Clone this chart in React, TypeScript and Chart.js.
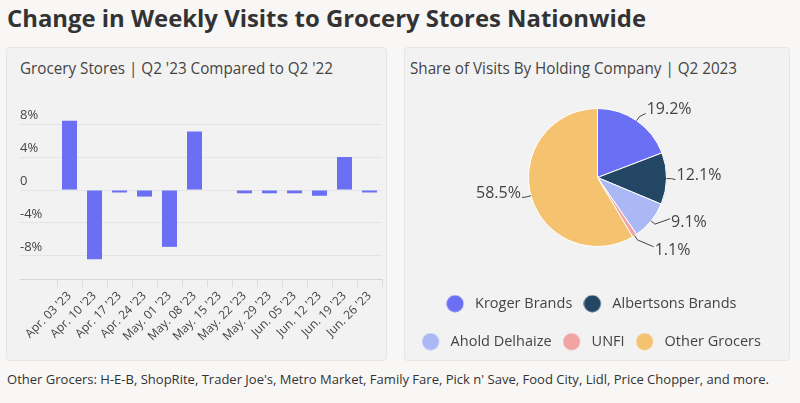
import React, { useEffect, useRef, useMemo } from 'react';
import { Chart, registerables } from 'chart.js';

Chart.register(...registerables);

// ---------- data ----------
const weeks = [
  "Apr. 03 '23", "Apr. 10 '23", "Apr. 17 '23", "Apr. 24 '23", "May. 01 '23", "May. 08 '23",
  "May. 15 '23", "May. 22 '23", "May. 29 '23", "Jun. 05 '23", "Jun. 12 '23", "Jun. 19 '23", "Jun. 26 '23",
];
const weeklyChange = [8.4, -8.4, -0.3, -0.8, -6.9, 7.1, 0, -0.4, -0.4, -0.4, -0.7, 4.0, -0.3];
const yTickValues = [8, 4, 0, -4, -8];
const yLimit = 10.8;

const companies = ['Kroger Brands', 'Albertsons Brands', 'Ahold Delhaize', 'UNFI', 'Other Grocers'];
const visitShare = [19.2, 12.1, 9.1, 1.1, 58.5];
const companyColors = ['#6a6ff3', '#234664', '#aab9f5', '#f2a3a3', '#f5c270'];

const barColor = '#6a6ff3';
const FONT = "'Open Sans', sans-serif";

const titleText = 'Change in Weekly Visits to Grocery Stores Nationwide';
const leftTitle = "Grocery Stores | Q2 '23 Compared to Q2 '22";
const rightTitle = 'Share of Visits By Holding Company | Q2 2023';
const footerText = "Other Grocers: H-E-B, ShopRite, Trader Joe's, Metro Market, Family Fare, Pick n' Save, Food City, Lidl, Price Chopper, and more.";

// ---------- helpers ----------
function FitText(props: { text: string; font: string; width: number; style: React.CSSProperties }) {
  const scale = useMemo(() => {
    const c = document.createElement('canvas');
    const ctx = c.getContext('2d')!;
    ctx.font = props.font;
    const w = ctx.measureText(props.text).width;
    return w > 0 ? props.width / w : 1;
  }, [props.text, props.font, props.width]);
  return (
    <div
      style={{
        position: 'absolute',
        whiteSpace: 'nowrap',
        font: props.font,
        lineHeight: 1,
        transform: `scaleX(${scale})`,
        transformOrigin: 'left top',
        ...props.style,
      }}
    >
      {props.text}
    </div>
  );
}

// legend marker: a dot drawn left of the legend box so the text gap matches
function makeDot(color: string): HTMLCanvasElement {
  const c = document.createElement('canvas');
  c.width = 34;
  c.height = 18;
  const ctx = c.getContext('2d')!;
  ctx.fillStyle = color;
  ctx.beginPath();
  ctx.arc(8.9, 9, 8.5, 0, Math.PI * 2);
  ctx.fill();
  return c;
}

const pieLabelPlugin = {
  id: 'pieLabels',
  afterDatasetsDraw(chart: any) {
    const meta = chart.getDatasetMeta(0);
    const ctx = chart.ctx;
    const data = chart.data.datasets[0].data as number[];
    ctx.save();
    ctx.font = `16px ${FONT}`;
    const boxH = 24;
    const items = meta.data.map((arc: any, i: number) => {
      const { x, y, startAngle, endAngle, outerRadius } = arc.getProps(
        ['x', 'y', 'startAngle', 'endAngle', 'outerRadius'], true);
      const mid = (startAngle + endAngle) / 2;
      const dx = Math.cos(mid);
      const dy = Math.sin(mid);
      const px = outerRadius * dx;
      const py = outerRadius * dy;
      const text = data[i].toFixed(1) + '%';
      const w = ctx.measureText(text).width;
      const side = px >= 0 ? 1 : -1;
      const hy = py >= 0 ? boxH / 2 : -boxH / 2;
      const extra = dy > 0.5 ? 14 : 4;
      const tx = x + px + side * (w / 2 + boxH / 4 + extra);
      const ty = y + py + (Math.abs(py) < 1e-6 ? 0 : hy / (1 + (px * px) / (py * py)));
      return { x, y, outerRadius, dx, dy, px, py, text, w, side, tx, ty };
    });
    // simple vertical spreading on each side
    [1, -1].forEach((s) => {
      const list = items.filter((it: any) => it.side === s).sort((a: any, b: any) => a.ty - b.ty);
      for (let k = 1; k < list.length; k++) {
        if (list[k].ty - list[k - 1].ty < 28) list[k].ty = list[k - 1].ty + 28;
      }
    });
    ctx.strokeStyle = '#444';
    ctx.fillStyle = '#444';
    ctx.lineWidth = 1;
    ctx.textBaseline = 'middle';
    ctx.textAlign = 'center';
    items.forEach((it: any) => {
      const edgeX = it.x + it.px;
      const edgeY = it.y + it.py;
      const kx = it.x + (it.outerRadius + 5) * it.dx;
      const ky = it.y + (it.outerRadius + 5) * it.dy;
      const endX = it.tx - it.side * (it.w / 2 + 1);
      const endY = it.dy > 0.5 ? it.ty - 7 : it.ty + 1;
      ctx.beginPath();
      ctx.moveTo(edgeX, edgeY);
      ctx.lineTo(kx, ky);
      ctx.lineTo(endX, endY);
      ctx.stroke();
      ctx.fillText(it.text, it.tx, it.ty - 3);
    });
    ctx.restore();
  },
};

function BarChart() {
  const ref = useRef<HTMLCanvasElement>(null);
  useEffect(() => {
    const chart = new Chart(ref.current!, {
      type: 'bar',
      data: {
        labels: weeks,
        datasets: [{
          data: weeklyChange,
          backgroundColor: barColor,
          borderWidth: 0,
          barPercentage: 0.6,
          categoryPercentage: 1,
        }],
      },
      options: {
        animation: false,
        responsive: false,
        maintainAspectRatio: false,
        layout: { padding: { left: 14, right: 5, top: 11, bottom: 0 } },
        plugins: { legend: { display: false }, tooltip: { enabled: false } },
        scales: {
          x: {
            offset: true,
            grid: { display: true, drawOnChartArea: false, drawTicks: true, tickLength: 8, color: '#dcdcdc', offset: true },
            border: { display: true, color: '#d6d6d6' },
            ticks: {
              autoSkip: false, minRotation: 45, maxRotation: 45, padding: 2,
              color: '#444', font: { family: FONT, size: 12 },
            },
            afterFit(axis: any) { axis.height = 79; },
          },
          y: {
            min: -yLimit,
            max: yLimit,
            afterBuildTicks(axis: any) {
              axis.ticks = [-yLimit, ...yTickValues.slice().reverse()].map((v) => ({ value: v }));
            },
            afterFit(axis: any) { axis.width = 37; },
            grid: {
              drawTicks: true,
              tickLength: 37,
              color: (c: any) => (c.tick && c.tick.value === -yLimit ? '#d6d6d6' : '#e4e4e4'),
            },
            border: { display: false },
            ticks: {
              crossAlign: 'far',
              padding: 0,
              labelOffset: -9,
              color: '#444',
              font: { family: FONT, size: 13 },
              callback: (v: any) => (v === -yLimit ? '' : v === 0 ? '0' : `${v}%`),
            },
          },
        },
      },
    } as any);
    return () => chart.destroy();
  }, []);
  return <canvas ref={ref} width={381} height={268} style={{ position: 'absolute', left: 6, top: 90, width: 381, height: 268 }} />;
}

function PieChart() {
  const ref = useRef<HTMLCanvasElement>(null);
  useEffect(() => {
    const chart = new Chart(ref.current!, {
      type: 'pie',
      data: {
        labels: companies,
        datasets: [{
          data: visitShare,
          backgroundColor: companyColors,
          borderColor: '#ffffff',
          borderWidth: 1,
          hoverOffset: 0,
          radius: 69,
        }],
      },
      options: {
        animation: false,
        responsive: false,
        maintainAspectRatio: false,
        layout: { padding: { top: 0, bottom: 3, left: 0, right: 0 } },
        plugins: {
          tooltip: { enabled: false },
          legend: {
            position: 'bottom',
            labels: {
              usePointStyle: true,
              boxWidth: 9.25,
              boxHeight: 12,
              padding: 23.5,
              color: '#444',
              font: { family: FONT, size: 14.5 },
              generateLabels(ch: any) {
                const base = (Chart as any).overrides.pie.plugins.legend.labels.generateLabels(ch);
                return base.map((l: any) => ({ ...l, lineWidth: 0, pointStyle: makeDot(l.fillStyle) }));
              },
            },
          },
        },
      },
      plugins: [pieLabelPlugin],
    } as any);
    return () => chart.destroy();
  }, []);
  return <canvas ref={ref} width={405} height={280} style={{ position: 'absolute', left: 395, top: 82, width: 405, height: 280 }} />;
}

export default function App() {
  const panel: React.CSSProperties = {
    position: 'absolute',
    top: 47,
    height: 314,
    background: '#f2f2f2',
    border: '1px solid #e5e5e5',
    borderRadius: 4,
    boxSizing: 'border-box',
  };
  return (
    <div style={{ position: 'absolute', left: 0, top: 0, width: 800, height: 403, overflow: 'hidden', background: '#f8f7f5' }}>
      <FitText text={titleText} font={`bold 24px ${FONT}`} width={639} style={{ left: 7, top: 6, color: '#333' }} />
      <div style={{ ...panel, left: 6, width: 381 }} />
      <div style={{ ...panel, left: 404, width: 386 }} />
      <FitText text={leftTitle} font={`16px ${FONT}`} width={313} style={{ left: 20, top: 60, color: '#444' }} />
      <FitText text={rightTitle} font={`16px ${FONT}`} width={327} style={{ left: 410, top: 60, color: '#444' }} />
      <BarChart />
      <PieChart />
      <FitText text={footerText} font={`13px ${FONT}`} width={762} style={{ left: 7, top: 373, color: '#333' }} />
    </div>
  );
}
